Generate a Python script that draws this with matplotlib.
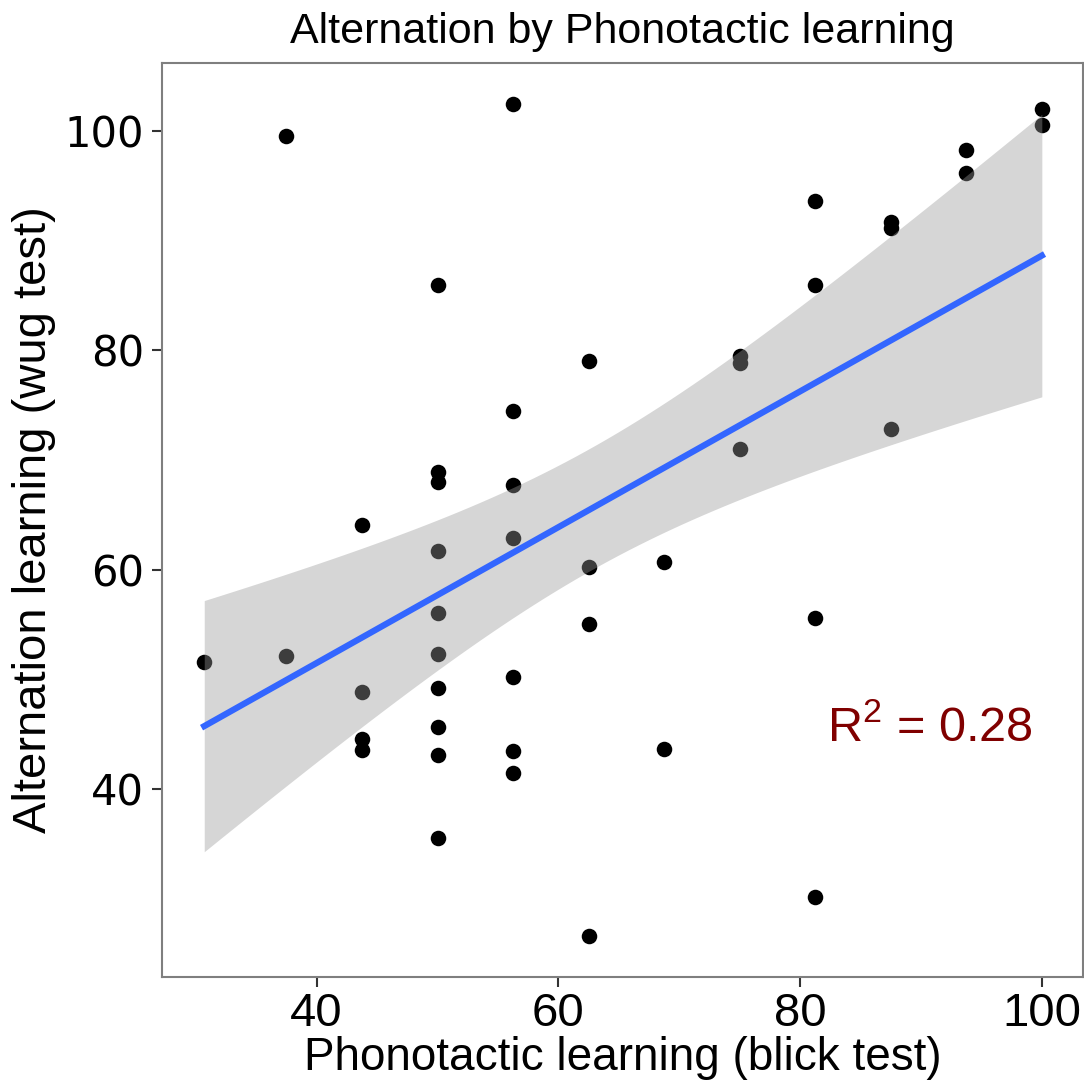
import numpy as np
import matplotlib.pyplot as plt

# scores (blick test vs wug test)
x_blick = [30.7,
           37.5, 37.5,
           43.75, 43.75, 43.75, 43.75,
           50, 50, 50, 50, 50, 50, 50, 50, 50, 50,
           56.25, 56.25, 56.25, 56.25, 56.25, 56.25, 56.25,
           62.5, 62.5, 62.5, 62.5,
           68.75, 68.75,
           75, 75, 75,
           81.25, 81.25, 81.25, 81.25,
           87.5, 87.5, 87.5,
           93.75, 93.75,
           100, 100]
y_wug = [51.6,
         99.5, 52.2,
         64.1, 48.9, 44.6, 43.6,
         86.0, 68.9, 68.0, 61.7, 56.1, 52.3, 49.2, 45.7, 43.1, 35.6,
         102.5, 74.5, 67.7, 62.9, 50.2, 43.5, 41.5,
         79.0, 60.3, 55.1, 26.6,
         60.7, 43.7,
         79.5, 78.9, 71.0,
         93.6, 86.0, 55.6, 30.2,
         91.7, 91.2, 72.8,
         98.3, 96.2,
         102.0, 100.5]
x_ticks = [40, 60, 80, 100]
y_ticks = [40, 60, 80, 100]
r2_label = "R$^{2}$ = 0.28"

x = np.array(x_blick)
y = np.array(y_wug)

#fit lineaire + intervalle de confiance 95% (comme geom_smooth(method='lm'))
n = len(x)
b, a = np.polyfit(x, y, 1)
res = y - (a + b*x)
s = np.sqrt(np.sum(res**2)/(n-2))
t975 = 2.018
xs = np.linspace(x.min(), x.max(), 80)
ys = a + b*xs
se = s*np.sqrt(1/n + (xs-x.mean())**2/np.sum((x-x.mean())**2))
print("R2 =", 1 - np.sum(res**2)/np.sum((y-y.mean())**2))

plt.rcParams['font.family'] = ['Liberation Sans', 'DejaVu Sans']
plt.rcParams['mathtext.fontset'] = 'custom'
plt.rcParams['mathtext.rm'] = 'Liberation Sans'
plt.rcParams['mathtext.it'] = 'Liberation Sans'
plt.rcParams['mathtext.default'] = 'rm'

fig = plt.figure(figsize=(10.84, 10.85), dpi=100)
ax = fig.add_axes([0.1494, 0.0995, 0.8496, 0.8425])

ax.scatter(x, y, s=125, color='black', linewidths=0, zorder=2)
ax.fill_between(xs, ys-t975*se, ys+t975*se, color='#999999', alpha=0.4, linewidth=0, zorder=3)
ax.plot(xs, ys, color='#3366FF', lw=4.5, zorder=4)
ax.text(90.7, 45.6, r2_label, color='#800000', fontsize=35, ha='center', va='center', zorder=5)

ax.set_xlim(27.2, 103.4)
ax.set_ylim(22.9, 106.2)
ax.set_xticks(x_ticks)
ax.set_yticks(y_ticks)
ax.tick_params(axis='x', labelsize=34, length=7, width=1.5, color='#333333', pad=4)
ax.tick_params(axis='y', length=7, width=1.5, color='#333333', pad=6)
for lab in ax.get_yticklabels():
    lab.set_fontfamily('DejaVu Sans')
    lab.set_fontsize(30)
for sp in ax.spines.values():
    sp.set_color('#7f7f7f')
    sp.set_linewidth(1.5)

ax.set_xlabel('Phonotactic learning (blick test)', fontsize=33, labelpad=0)
ax.set_ylabel('Alternation learning (wug test)', fontsize=34, labelpad=6)
ax.set_title('Alternation by Phonotactic learning', fontsize=31, pad=14)

plt.savefig('out.png', dpi=100)
